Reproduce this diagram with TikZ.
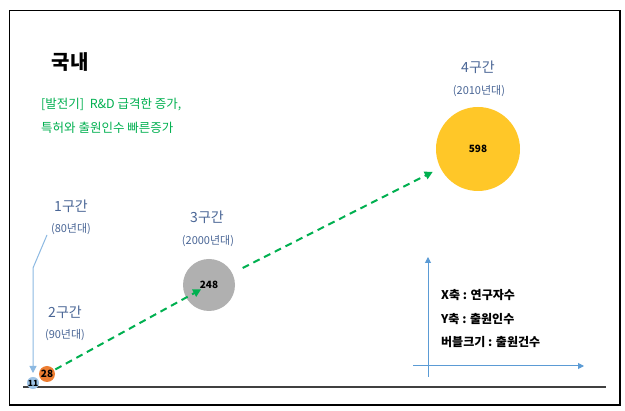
\documentclass[tikz,border=0pt]{standalone}
\usepackage{fontspec}
\setmainfont{Noto Sans CJK KR}
\usetikzlibrary{arrows.meta}
\definecolor{lblue}{RGB}{74,102,150}
\definecolor{dgreen}{RGB}{0,176,80}
\definecolor{axblue}{RGB}{91,155,213}
\definecolor{bblue}{RGB}{157,195,230}
\definecolor{borange}{RGB}{237,125,49}
\definecolor{bgray}{RGB}{176,176,176}
\definecolor{byellow}{RGB}{255,199,40}
\tikzset{
  period/.style={text=lblue,font=\fontsize{14}{16}\selectfont,inner sep=0pt},
  decade/.style={text=lblue,font=\fontsize{11}{13}\selectfont,inner sep=0pt},
  bubble/.style={circle,inner sep=0pt,font=\bfseries\fontsize{10}{12}\selectfont},
  growth/.style={dgreen,line width=2pt,dash pattern=on 7pt off 5pt,-{Triangle[length=8pt,width=8pt]}},
  legtext/.style={anchor=west,inner sep=0pt,font=\bfseries\fontsize{12}{14}\selectfont},
  legaxis/.style={axblue,line width=1pt,-{Triangle[length=6pt,width=6pt]}},
  green/.style={anchor=west,inner sep=0pt,text=dgreen,font=\fontsize{12.5}{14}\selectfont}
}
\begin{document}
\begin{tikzpicture}[x=1pt,y=-1pt]
\useasboundingbox (0,0) rectangle (625,411);
\fill[white] (0,0) rectangle (625,411);
\draw[line width=1.3pt] (9.5,10.5) rectangle (620,405);
% baseline
\draw[line width=2pt,black!75] (23,387) -- (606,387);
% title
\node[inner sep=0pt,font=\bfseries\fontsize{20}{22}\selectfont] (title) at (70,62) {국내};
\node[green] (g1) at (41,105) {[발전기]\ \ R\&D 급격한 증가,};
\node[green] (g2) at (41,128) {특허와 출원인수 빠른증가};
% period labels
\node[period] (p1) at (71,206) {1구간};
\node[decade] (d1) at (71,229) {(80년대)};
\node[period] (p2) at (65,312) {2구간};
\node[decade] (d2) at (65,335) {(90년대)};
\node[period] (p3) at (207,217) {3구간};
\node[decade] (d3) at (208,241) {(2000년대)};
\node[period] (p4) at (478,67) {4구간};
\node[decade] (d4) at (479,91) {(2010년대)};
% bubbles
\node[bubble,fill=bblue,minimum size=11pt,font=\bfseries\fontsize{8.5}{10}\selectfont] (b11) at (33,383) {11};
\node[bubble,fill=borange,minimum size=16pt] (b28) at (47,374) {28};
\node[bubble,fill=bgray,minimum size=52pt] (b248) at (209,285) {248};
\node[bubble,fill=byellow,minimum size=84pt] (b598) at (478,149) {598};
% blue pointer
\coordinate (c1) at (47,235);
\coordinate (c2) at (33,268);
\coordinate (c3) at (33,373);
\draw[axblue!70,line width=1pt,-{Triangle[length=7pt,width=7pt]}] (c1) -- (c2) -- (c3);
% growth arrows
\draw[growth,shorten <=9.5pt,shorten >=9pt] (b28.center) -- (b248.center);
\draw[growth,shorten <=11.5pt,shorten >=8.5pt] (b248) -- (b598);
% legend
\coordinate (vy0) at (428,377);
\coordinate (vy1) at (428,257);
\coordinate (hx0) at (413,366);
\coordinate (hx1) at (584,366);
\draw[legaxis] (vy0) -- (vy1);
\draw[legaxis] (hx0) -- (hx1);
\node[legtext] (l1) at (441,295) {X축 : 연구자수};
\node[legtext] (l2) at (441,319) {Y축 : 출원인수};
\node[legtext] (l3) at (441,342) {버블크기 : 출원건수};
\end{tikzpicture}
\end{document}
